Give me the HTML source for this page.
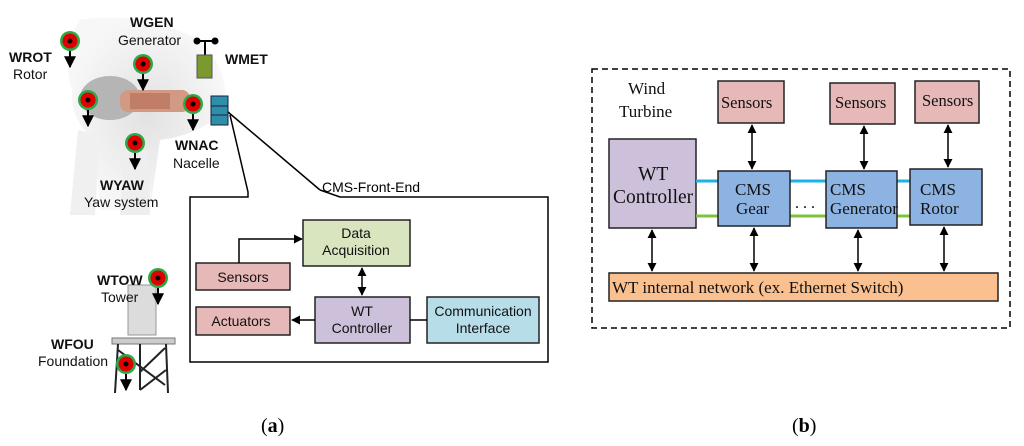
<!DOCTYPE html>
<html><head><meta charset="utf-8"><style>
html,body{margin:0;padding:0;background:#fff;}
svg{display:block}
.s{font-family:"Liberation Sans",sans-serif;}
.r{font-family:"Liberation Serif",serif;}
</style></head><body>
<svg width="1024" height="446" viewBox="0 0 1024 446" xmlns="http://www.w3.org/2000/svg">
<defs>
<marker id="a" viewBox="0 0 10 10" refX="9" refY="5" markerWidth="6" markerHeight="6" orient="auto-start-reverse"><path d="M0,0 L10,5 L0,10 z" fill="#000"/></marker>
<radialGradient id="g" cx="50%" cy="50%" r="50%"><stop offset="0" stop-color="#e2e2e2"/><stop offset="1" stop-color="#f7f7f7"/></radialGradient>
</defs>
<!-- turbine silhouette -->
<path d="M80,20 Q140,10 200,40 Q230,70 225,110 Q200,135 160,140 L150,210 L100,210 L95,140 Q70,120 72,90 Q60,50 80,20z" fill="url(#g)"/>
<path d="M78,130 L70,215 L95,215 L100,135z" fill="#f0f0f0"/>
<path d="M125,150 L120,215 L150,215 L148,150z" fill="#eeeeee"/>
<ellipse cx="110" cy="98" rx="30" ry="22" fill="#b5b5b5"/>
<rect x="120" y="90" width="70" height="22" rx="8" fill="#d29a84"/>
<rect x="130" y="93" width="40" height="16" fill="#c07e66"/>
<!-- tower -->
<rect x="128" y="285" width="28" height="50" fill="#dcdcdc" stroke="#999"/>
<rect x="112" y="338" width="63" height="6" fill="#ccc" stroke="#777"/>
<g stroke="#222" stroke-width="2" fill="none">
<path d="M118,344 L115,393 M140,344 L140,390 M166,344 L168,393 M118,350 L165,385 M140,372 L165,348 M140,390 L166,370"/>
</g>
<!-- markers -->
<g>
<g transform="translate(70,41)"><circle r="10" fill="#2aa84a"/><circle r="7.5" fill="#e00000"/><circle r="2.5" fill="#000"/><path d="M0,10 V26" stroke="#000" stroke-width="2" marker-end="url(#a)"/></g>
<g transform="translate(143,64)"><circle r="10" fill="#2aa84a"/><circle r="7.5" fill="#e00000"/><circle r="2.5" fill="#000"/><path d="M0,10 V26" stroke="#000" stroke-width="2" marker-end="url(#a)"/></g>
<g transform="translate(88,100)"><circle r="10" fill="#2aa84a"/><circle r="7.5" fill="#e00000"/><circle r="2.5" fill="#000"/><path d="M0,10 V26" stroke="#000" stroke-width="2" marker-end="url(#a)"/></g>
<g transform="translate(193,104)"><circle r="10" fill="#2aa84a"/><circle r="7.5" fill="#e00000"/><circle r="2.5" fill="#000"/><path d="M0,10 V26" stroke="#000" stroke-width="2" marker-end="url(#a)"/></g>
<g transform="translate(135,143)"><circle r="10" fill="#2aa84a"/><circle r="7.5" fill="#e00000"/><circle r="2.5" fill="#000"/><path d="M0,10 V26" stroke="#000" stroke-width="2" marker-end="url(#a)"/></g>
<g transform="translate(158,278)"><circle r="10" fill="#2aa84a"/><circle r="7.5" fill="#e00000"/><circle r="2.5" fill="#000"/><path d="M0,10 V26" stroke="#000" stroke-width="2" marker-end="url(#a)"/></g>
<g transform="translate(126,364)"><circle r="10" fill="#2aa84a"/><circle r="7.5" fill="#e00000"/><circle r="2.5" fill="#000"/><path d="M0,10 V26" stroke="#000" stroke-width="2" marker-end="url(#a)"/></g>
</g>
<!-- WMET -->
<path d="M197,41 H215 M205,41 V55" stroke="#000" stroke-width="2"/>
<circle cx="197" cy="41" r="3.5"/><circle cx="215" cy="41" r="3.5"/>
<rect x="197" y="55" width="15" height="23" fill="#7a9a30" stroke="#555"/>
<rect x="211" y="96" width="17" height="10" fill="#2f8fa8" stroke="#124"/>
<rect x="211" y="106" width="17" height="9" fill="#2f8fa8" stroke="#124"/>
<rect x="211" y="115" width="17" height="10" fill="#2f8fa8" stroke="#124"/>
<!-- labels left -->
<g class="s" font-size="14" fill="#111">
<text x="9" y="62" font-weight="bold">WROT</text><text x="13" y="79">Rotor</text>
<text x="130" y="27" font-weight="bold">WGEN</text><text x="118" y="45">Generator</text>
<text x="225" y="64" font-weight="bold">WMET</text>
<text x="175" y="150" font-weight="bold">WNAC</text><text x="173" y="168">Nacelle</text>
<text x="100" y="190" font-weight="bold">WYAW</text><text x="84" y="207">Yaw system</text>
<text x="97" y="285" font-weight="bold">WTOW</text><text x="101" y="302">Tower</text>
<text x="51" y="349" font-weight="bold">WFOU</text><text x="38" y="366">Foundation</text>
</g>
<!-- callout -->
<g stroke="#000" stroke-width="1.5" fill="none">
<path d="M230,115 L248,192 L248,197 H190 V362 H548 V197 H340 L320,190"/>
<path d="M320,190 L228,112"/>
</g>
<text x="322" y="192" class="s" font-size="14">CMS-Front-End</text>
<!-- inner blocks -->
<g stroke="#222" stroke-width="1.5">
<rect x="303" y="220" width="107" height="46" fill="#d8e5bf"/>
<rect x="196" y="263" width="94" height="27" fill="#e6b9b8"/>
<rect x="196" y="307" width="94" height="28" fill="#e6b9b8"/>
<rect x="315" y="297" width="95" height="46" fill="#ccc0da"/>
<rect x="427" y="297" width="112" height="46" fill="#b7dee8"/>
</g>
<g stroke="#000" stroke-width="1.5" fill="none">
<path d="M239,263 V239 H302" marker-end="url(#a)"/>
<path d="M362,268 V295" marker-start="url(#a)" marker-end="url(#a)"/>
<path d="M315,320 H292" marker-end="url(#a)"/>
<path d="M410,320 H427"/>
</g>
<g class="s" font-size="14" text-anchor="middle" fill="#111">
<text x="356" y="238">Data</text><text x="356" y="255">Acquisition</text>
<text x="243" y="282">Sensors</text>
<text x="241" y="326">Actuators</text>
<text x="362" y="316">WT</text><text x="362" y="333">Controller</text>
<text x="483" y="316">Communication</text><text x="483" y="333">Interface</text>
</g>
<!-- right panel -->
<rect x="592" y="69" width="418" height="259" fill="none" stroke="#000" stroke-width="1.5" stroke-dasharray="6,4"/>
<g class="r" font-size="17" fill="#111">
<text x="628" y="94">Wind</text><text x="619" y="117">Turbine</text>
</g>
<g stroke="#222" stroke-width="1.5">
<rect x="718" y="81" width="66" height="42" fill="#e6b9b8"/>
<rect x="830" y="83" width="65" height="41" fill="#e6b9b8"/>
<rect x="915" y="81" width="64" height="42" fill="#e6b9b8"/>
<rect x="609" y="139" width="87" height="89" fill="#ccc0da"/>
<rect x="609" y="273" width="389" height="28" fill="#fac090"/>
</g>
<path d="M696,181 H718 M790,181 H826 M897,181 H910" stroke="#1fb0e8" stroke-width="3"/>
<path d="M696,216 H718 M790,216 H826 M897,216 H910" stroke="#80c040" stroke-width="3"/>
<g stroke="#222" stroke-width="1.5" fill="#8db3e2">
<rect x="718" y="171" width="72" height="55"/>
<rect x="826" y="171" width="71" height="57"/>
<rect x="910" y="169" width="72" height="56"/>
</g>
<text x="795" y="208" class="r" font-size="16">. . .</text>
<g stroke="#000" stroke-width="1.5" fill="none">
<path d="M752,125 V169" marker-start="url(#a)" marker-end="url(#a)"/>
<path d="M864,126 V169" marker-start="url(#a)" marker-end="url(#a)"/>
<path d="M948,125 V167" marker-start="url(#a)" marker-end="url(#a)"/>
<path d="M652,230 V271" marker-start="url(#a)" marker-end="url(#a)"/>
<path d="M754,228 V271" marker-start="url(#a)" marker-end="url(#a)"/>
<path d="M858,230 V271" marker-start="url(#a)" marker-end="url(#a)"/>
<path d="M944,227 V271" marker-start="url(#a)" marker-end="url(#a)"/>
</g>
<g class="r" font-size="16.5" fill="#111">
<text x="721" y="108">Sensors</text><text x="835" y="108">Sensors</text><text x="922" y="106">Sensors</text>
<text x="638" y="180" font-size="19.5">WT</text><text x="613" y="203" font-size="19.5">Controller</text>
<text x="735" y="195" font-size="17">CMS</text><text x="736" y="214" font-size="17">Gear</text>
<text x="830" y="195" font-size="17">CMS</text><text x="830" y="214" font-size="17">Generator</text>
<text x="920" y="195" font-size="17">CMS</text><text x="920" y="214" font-size="17">Rotor</text>
<text x="612" y="293" font-size="17">WT internal network (ex. Ethernet Switch)</text>
</g>
<g class="r" font-size="20" fill="#000">
<text x="261" y="432">(<tspan font-weight="bold">a</tspan>)</text>
<text x="792" y="432">(<tspan font-weight="bold">b</tspan>)</text>
</g>
</svg>
</body></html>
